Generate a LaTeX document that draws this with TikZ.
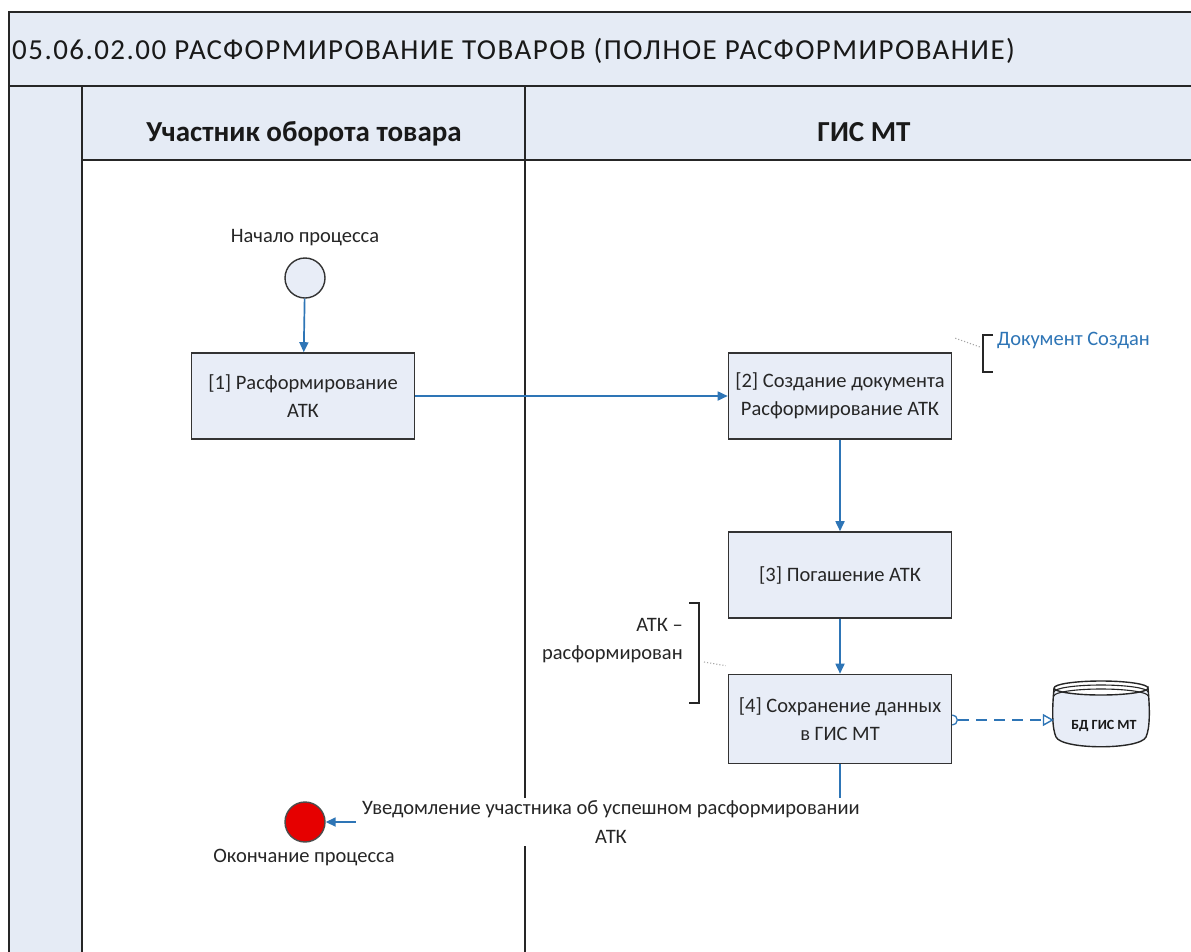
\documentclass[tikz,border=0pt]{standalone}
\usepackage{fontspec}
\setmainfont{Carlito}
\newfontfamily\titlefont[LetterSpace=5]{Carlito}
\usetikzlibrary{arrows.meta}
\definecolor{hdr}{HTML}{E5EBF5}
\definecolor{boxfill}{HTML}{E8EDF7}
\definecolor{flowblue}{HTML}{2E75B6}
\definecolor{annblue}{HTML}{2E75B6}
\definecolor{endred}{HTML}{E60000}
\definecolor{txt}{HTML}{262626}
\begin{document}
\begin{tikzpicture}[x=1pt,y=-1pt,
  frame/.style={draw=black!85, line width=1.6pt},
  task/.style={draw=black!80, line width=1.6pt, fill=boxfill, minimum width=223pt, minimum height=86pt, align=center, text=txt, font=\fontsize{20.5}{28}\selectfont, inner sep=2pt},
  evt/.style={circle, draw=black!80, line width=1.4pt, minimum size=40pt, inner sep=0pt},
  lbl/.style={font=\fontsize{20.5}{28}\selectfont, text=txt, inner sep=1pt},
  flow/.style={draw=flowblue, line width=1.7pt, -{Triangle[length=10pt,width=9pt]}},
  brk/.style={draw=black!85, line width=1.6pt},
  dotline/.style={draw=black!35, line width=1.1pt, dotted},
  lanehdr/.style={font=\bfseries\fontsize{29}{34}\selectfont, text=black!90, inner sep=0pt}
]
\useasboundingbox (0,0) rectangle (1191,951);
\fill[white] (0,0) rectangle (1191,951);
% pool and lanes
\draw[frame, fill=hdr] (9,12) rectangle (1200,86);
\draw[frame, fill=hdr] (9,86) rectangle (82,960);
\draw[frame, fill=hdr] (82,86) rectangle (525,160);
\draw[frame, fill=hdr] (525,86) rectangle (1200,160);
\draw[frame, fill=white] (82,160) rectangle (525,960);
\draw[frame, fill=white] (525,160) rectangle (1200,960);
\node[anchor=base west, font=\titlefont\fontsize{29}{32}\selectfont, text=black!90, inner sep=0pt] (title) at (12,59) {05.06.02.00 РАСФОРМИРОВАНИЕ ТОВАРОВ (ПОЛНОЕ РАСФОРМИРОВАНИЕ)};
\node[lanehdr, anchor=base] (lane1) at (304,141) {Участник оборота товара};
\node[lanehdr, anchor=base] (lane2) at (864,141) {ГИС МТ};

% events
\node[evt, fill=boxfill] (start) at (305,278) {};
\node[lbl] (startlbl) at (305,238) {Начало процесса};
\node[evt, fill=endred, draw=black!70] (end) at (305,822) {};
\node[lbl] (endlbl) at (304,858) {Окончание процесса};

% tasks
\node[task] (t1) at (303,396) {[1] Расформирование\\АТК};
\node[task] (t2) at (840,396) {[2] Создание документа\\Расформирование АТК};
\node[task] (t3) at (840,575) {[3] Погашение АТК};
\node[task, minimum height=89pt] (t4) at (840,719) {[4] Сохранение данных\\в ГИС МТ};

% database
\node[minimum width=94pt, minimum height=60pt, inner sep=0pt] (db) at (1101,720) {};
\draw[draw=black!85, line width=1.4pt, fill=boxfill]
  (1054,688) .. controls (1052,710) and (1052,728) .. (1056,737)
  .. controls (1062,750) and (1140,750) .. (1146,737)
  .. controls (1150,728) and (1150,710) .. (1148,688)
  arc[start angle=0, end angle=180, x radius=47pt, y radius=-7pt];
\draw[draw=black!85, line width=1.4pt]
  (1054,688) arc[start angle=180, end angle=360, x radius=47pt, y radius=-7pt];
\draw[draw=black!85, line width=1.1pt]
  (1054,692) arc[start angle=180, end angle=360, x radius=47pt, y radius=-7pt];
\draw[draw=black!85, line width=1.1pt]
  (1054,696) arc[start angle=180, end angle=360, x radius=47pt, y radius=-7pt];
\node[font=\bfseries\fontsize{14}{16}\selectfont, text=black!90] (dblbl) at (1104,726) {БД ГИС МТ};

% flows
\draw[flow] (start) -- (t1);
\draw[flow] (t1) -- (t2);
\draw[flow] (t2) -- (t3);
\draw[flow] (t3) -- (t4);
\coordinate (assocstart) at (t4.east |- db.west);
\draw[draw=flowblue, line width=1.3pt] ([yshift=5pt]assocstart) arc[start angle=90, end angle=-90, radius=5pt];
\draw[draw=flowblue, line width=1.4pt, dash pattern=on 11pt off 7pt,
  -{Triangle[open,length=11pt,width=12pt]}]
  ([xshift=6pt]assocstart) -- (db.west);
\draw[flow] (t4.south) |- (end);
\node[lbl, fill=white, align=center, font=\fontsize{20.5}{29}\selectfont, inner xsep=6pt, inner ysep=3pt] (msg) at (611,822) {Уведомление участника об успешном расформировании\\АТК};

% annotations
\node[lbl, text=annblue, anchor=west] (ann1) at (996,341) {Документ Создан};
\coordinate (b1t) at (983,335);
\coordinate (b1b) at (983,372);
\draw[brk] ([xshift=10pt]b1t) -- (b1t) -- (b1b) -- ([xshift=10pt]b1b);
\draw[dotline] ([xshift=3pt,yshift=14pt]t2.north east) -- (980,347);

\node[lbl, align=right, anchor=east] (ann2) at (684,641) {АТК –\\расформирован};
\coordinate (b2t) at (699,603);
\coordinate (b2b) at (699,703);
\draw[brk] ([xshift=-10pt]b2t) -- (b2t) -- (b2b) -- ([xshift=-10pt]b2b);
\draw[dotline] (704,662) -- ([xshift=-2pt,yshift=8pt]t4.north west);
\end{tikzpicture}
\end{document}
